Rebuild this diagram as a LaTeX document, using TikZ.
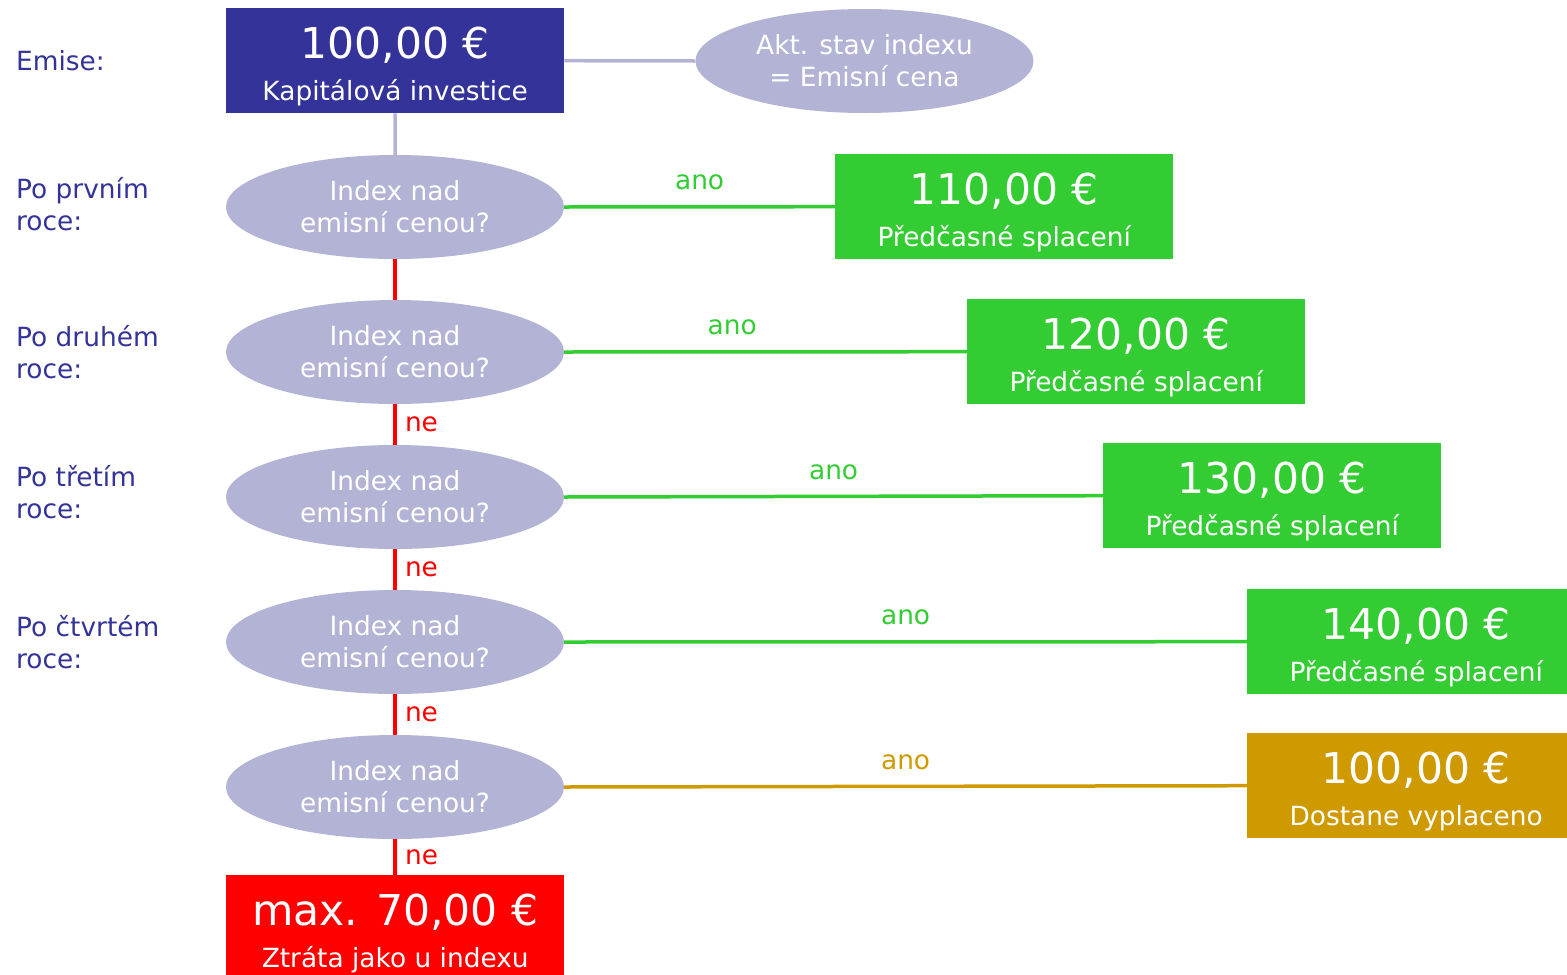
\documentclass[tikz,border=0pt]{standalone}
\usepackage{fontspec}
\setmainfont{DejaVu Sans}
\usetikzlibrary{shapes.geometric,calc}
\definecolor{navy}{HTML}{333399}
\definecolor{lav}{HTML}{B3B3D5}
\definecolor{grn}{HTML}{33CC33}
\definecolor{gold}{HTML}{CF9900}
\definecolor{alarm}{HTML}{FF0000}
\begin{document}
\begin{tikzpicture}[x=1pt,y=-1pt,
  body/.style={font=\fontsize{26.4}{32}\selectfont},
  bigtxt/.style={font=\fontsize{42.5}{44}\selectfont, text=white, anchor=base, inner sep=0},
  subtxt/.style={body, text=white, anchor=base, inner sep=0},
  box/.style={rectangle, minimum width=338pt, minimum height=105pt, inner sep=0, anchor=north west},
  query/.style={ellipse, fill=lav, minimum width=338pt, minimum height=104pt, inner sep=0, text=white, align=center, body},
  side/.style={body, text=navy, anchor=base west, inner sep=0},
  lavline/.style={draw=lav, line width=3.5pt},
  yesline/.style={draw=grn, line width=3.5pt},
  noline/.style={draw=alarm, line width=4pt},
  yestxt/.style={body, text=grn, anchor=base, inner sep=0},
  notxt/.style={body, text=alarm, anchor=west, inner sep=0, xshift=8pt},
]
\clip (0,0) rectangle (1567,975);

% row labels
\node[side] (lEm) at (16,70) {Emise:};
\node[side] (l1a) at (16,198) {Po prvním};
\node[side] (l1b) at (16,230) {roce:};
\node[side] (l2a) at (16,346) {Po druhém};
\node[side] (l2b) at (16,378) {roce:};
\node[side] (l3a) at (16,486) {Po třetím};
\node[side] (l3b) at (16,518) {roce:};
\node[side] (l4a) at (16,636) {Po čtvrtém};
\node[side] (l4b) at (16,668) {roce:};

% issue
\node[box, fill=navy] (b0) at (226,8) {};
\node[bigtxt] (b0t) at ($(b0.north)+(0,50)$) {100,00 €};
\node[subtxt] (b0s) at ($(b0.north)+(0,92)$) {Kapitálová investice};
\node[query] (ea) at (864.5,61) {Akt. stav indexu\\= Emisní cena};

% yearly checks
\node[query] (e1) at (395,207) {Index nad\\emisní cenou?};
\node[query] (e2) at (395,352) {Index nad\\emisní cenou?};
\node[query] (e3) at (395,497) {Index nad\\emisní cenou?};
\node[query] (e4) at (395,642) {Index nad\\emisní cenou?};
\node[query] (e5) at (395,787) {Index nad\\emisní cenou?};

% outcomes
\node[box, fill=grn] (g1) at (835,154) {};
\node[bigtxt] (g1t) at ($(g1.north)+(0,50)$) {110,00 €};
\node[subtxt] (g1s) at ($(g1.north)+(0,92)$) {Předčasné splacení};
\node[box, fill=grn] (g2) at (967,299) {};
\node[bigtxt] (g2t) at ($(g2.north)+(0,50)$) {120,00 €};
\node[subtxt] (g2s) at ($(g2.north)+(0,92)$) {Předčasné splacení};
\node[box, fill=grn] (g3) at (1103,443) {};
\node[bigtxt] (g3t) at ($(g3.north)+(0,50)$) {130,00 €};
\node[subtxt] (g3s) at ($(g3.north)+(0,92)$) {Předčasné splacení};
\node[box, fill=grn] (g4) at (1247,589) {};
\node[bigtxt] (g4t) at ($(g4.north)+(0,50)$) {140,00 €};
\node[subtxt] (g4s) at ($(g4.north)+(0,92)$) {Předčasné splacení};
\node[box, fill=gold] (g5) at (1247,733) {};
\node[bigtxt] (g5t) at ($(g5.north)+(0,50)$) {100,00 €};
\node[subtxt] (g5s) at ($(g5.north)+(0,92)$) {Dostane vyplaceno};
\node[box, fill=alarm] (r0) at (226,875) {};
\node[bigtxt] (r0t) at ($(r0.north)+(0,50)$) {max. 70,00 €};
\node[subtxt] (r0s) at ($(r0.north)+(0,92)$) {Ztráta jako u indexu};

% connectors
\draw[lavline] (b0.east) -- (ea.west);
\draw[lavline] (b0.south) -- (e1.north);
\draw[noline] (e1.south) -- (e2.north);
\draw[noline] (e2.south) -- node[notxt] (n2) {ne} (e3.north);
\draw[noline] (e3.south) -- node[notxt] (n3) {ne} (e4.north);
\draw[noline] (e4.south) -- node[notxt] (n4) {ne} (e5.north);
\draw[noline] (e5.south) -- node[notxt] (n5) {ne} (r0.north);

\draw[yesline] (e1.east) -- (g1.west);
\draw[yesline] (e2.east) -- (g2.west);
\draw[yesline] (e3.east) -- (g3.west);
\draw[yesline] (e4.east) -- (g4.west);
\draw[draw=gold, line width=3.5pt] (e5.east) -- (g5.west);

\node[yestxt] (a1) at ($(e1.east)!0.5!(g1.west)+(0,-17)$) {ano};
\node[yestxt] (a2) at ($(e2.east)!0.417!(g2.west)+(0,-17)$) {ano};
\node[yestxt] (a3) at ($(e3.east)!0.5!(g3.west)+(0,-17)$) {ano};
\node[yestxt] (a4) at ($(e4.east)!0.5!(g4.west)+(0,-17)$) {ano};
\node[yestxt, text=gold] (a5) at ($(e5.east)!0.5!(g5.west)+(0,-17)$) {ano};
\end{tikzpicture}
\end{document}
